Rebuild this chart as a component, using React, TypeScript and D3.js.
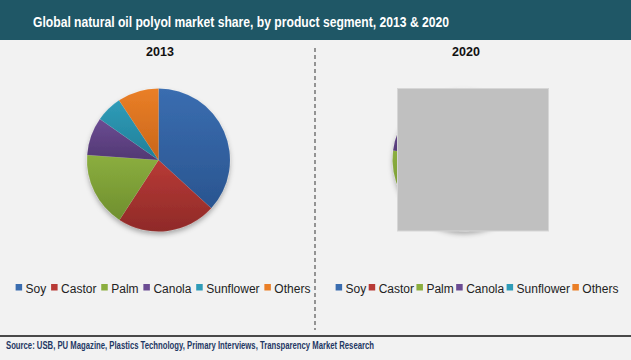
import React from "react";
import * as d3 from "d3";

const categories = ["Soy", "Castor", "Palm", "Canola", "Sunflower", "Others"];
const share2013 = [36.8, 22.4, 16.9, 8.6, 6.0, 9.3];
const share2020 = [35.5, 22.5, 19.0, 9.0, 5.5, 8.5];
const years = ["2013", "2020"];
const colors = ["#3a6db0", "#b83a36", "#8bae3f", "#6b4c93", "#2f9cb8", "#ea7f27"];
const darkColors = ["#2a5590", "#8f2a28", "#6f8f2e", "#523873", "#217f98", "#c9661a"];

const W = 631;
const H = 360;

function measure(text: string, font: string): number {
  try {
    const c = document.createElement("canvas").getContext("2d");
    if (c) {
      c.font = font;
      return c.measureText(text).width;
    }
  } catch (e) {}
  return text.length * 6.5;
}

function Pie({ data, cx, cy, r }: { data: number[]; cx: number; cy: number; r: number }) {
  const pie = d3.pie<number>().sort(null).value((d) => d);
  const arc = d3.arc<d3.PieArcDatum<number>>().innerRadius(0).outerRadius(r);
  const arcs = pie(data);
  return (
    <g transform={`translate(${cx},${cy})`} filter="url(#shadow)">
      {arcs.map((a, i) => (
        <path key={i} d={arc(a) || ""} fill={`url(#grad${i})`} stroke="rgba(255,255,255,0.12)" strokeWidth={0.5} />
      ))}
    </g>
  );
}

function Legend({ cx, y, gap }: { cx: number; y: number; gap: number }) {
  const font = "12px 'Liberation Sans', Arial, sans-serif";
  const sq = 6.5;
  const pad = 3.5;
  const widths = categories.map((c) => measure(c, font));
  const itemW = widths.map((w) => sq + pad + w);
  const total = d3.sum(itemW) + gap * (categories.length - 1);
  let x = cx - total / 2;
  const xs: number[] = [];
  itemW.forEach((w) => {
    xs.push(x);
    x += w + gap;
  });
  return (
    <g>
      {categories.map((c, i) => (
        <g key={c} transform={`translate(${xs[i]},${y})`}>
          <rect x={0} y={-sq + 1.5} width={sq} height={sq} fill={colors[i]} />
          <text x={sq + pad} y={4} fontSize={12} fontFamily="'Liberation Sans', Arial, sans-serif" fill="#222">
            {c}
          </text>
        </g>
      ))}
    </g>
  );
}

export default function App() {
  const r = 71.5;
  return (
    <svg width={W} height={H} style={{ position: "absolute", left: 0, top: 0, display: "block" }}>
      <defs>
        {colors.map((c, i) => (
          <linearGradient key={i} id={`grad${i}`} x1="0" y1="0" x2="0" y2="1">
            <stop offset="0%" stopColor={c} />
            <stop offset="100%" stopColor={darkColors[i]} />
          </linearGradient>
        ))}
        <filter id="shadow" x="-20%" y="-20%" width="140%" height="150%">
          <feDropShadow dx={0} dy={3} stdDeviation={2.5} floodColor="#000" floodOpacity={0.3} />
        </filter>
      </defs>
      <rect x={0} y={0} width={W} height={H} fill="#f2f2f2" />
      <rect x={0} y={0} width={W} height={40} fill="#1f5766" />
      <text
        x={33}
        y={27}
        fontSize={14.5}
        fontWeight="bold"
        fill="#fff"
        fontFamily="'Liberation Sans', Arial, sans-serif"
        textLength={416}
        lengthAdjust="spacingAndGlyphs"
      >
        Global natural oil polyol market share, by product segment, 2013 &amp; 2020
      </text>

      <text x={160} y={56} textAnchor="middle" fontSize={12.5} fontWeight="bold" fill="#111" fontFamily="'Liberation Sans', Arial, sans-serif">
        {years[0]}
      </text>
      <text x={466} y={56} textAnchor="middle" fontSize={12.5} fontWeight="bold" fill="#111" fontFamily="'Liberation Sans', Arial, sans-serif">
        {years[1]}
      </text>

      <Pie data={share2013} cx={158.5} cy={160} r={r} />
      <Pie data={share2020} cx={464} cy={159.5} r={r} />

      <rect x={397.5} y={88.5} width={151} height={142.5} fill="#c0c0c0" stroke="#d6d6d6" strokeWidth={1} />

      <line x1={315} x2={315} y1={48} y2={330} stroke="#555" strokeWidth={1.2} strokeDasharray="4,3" />

      <Legend cx={163} y={289} gap={4.8} />
      <Legend cx={477} y={289} gap={2.4} />

      <line x1={0} x2={W} y1={336} y2={336} stroke="#111" strokeWidth={1.5} />
      <text
        x={6}
        y={348.5}
        fontSize={10}
        fontWeight="bold"
        fill="#1f3864"
        fontFamily="'Liberation Sans', Arial, sans-serif"
        textLength={368}
        lengthAdjust="spacingAndGlyphs"
      >
        Source: USB, PU Magazine, Plastics Technology, Primary Interviews, Transparency Market Research
      </text>
    </svg>
  );
}
